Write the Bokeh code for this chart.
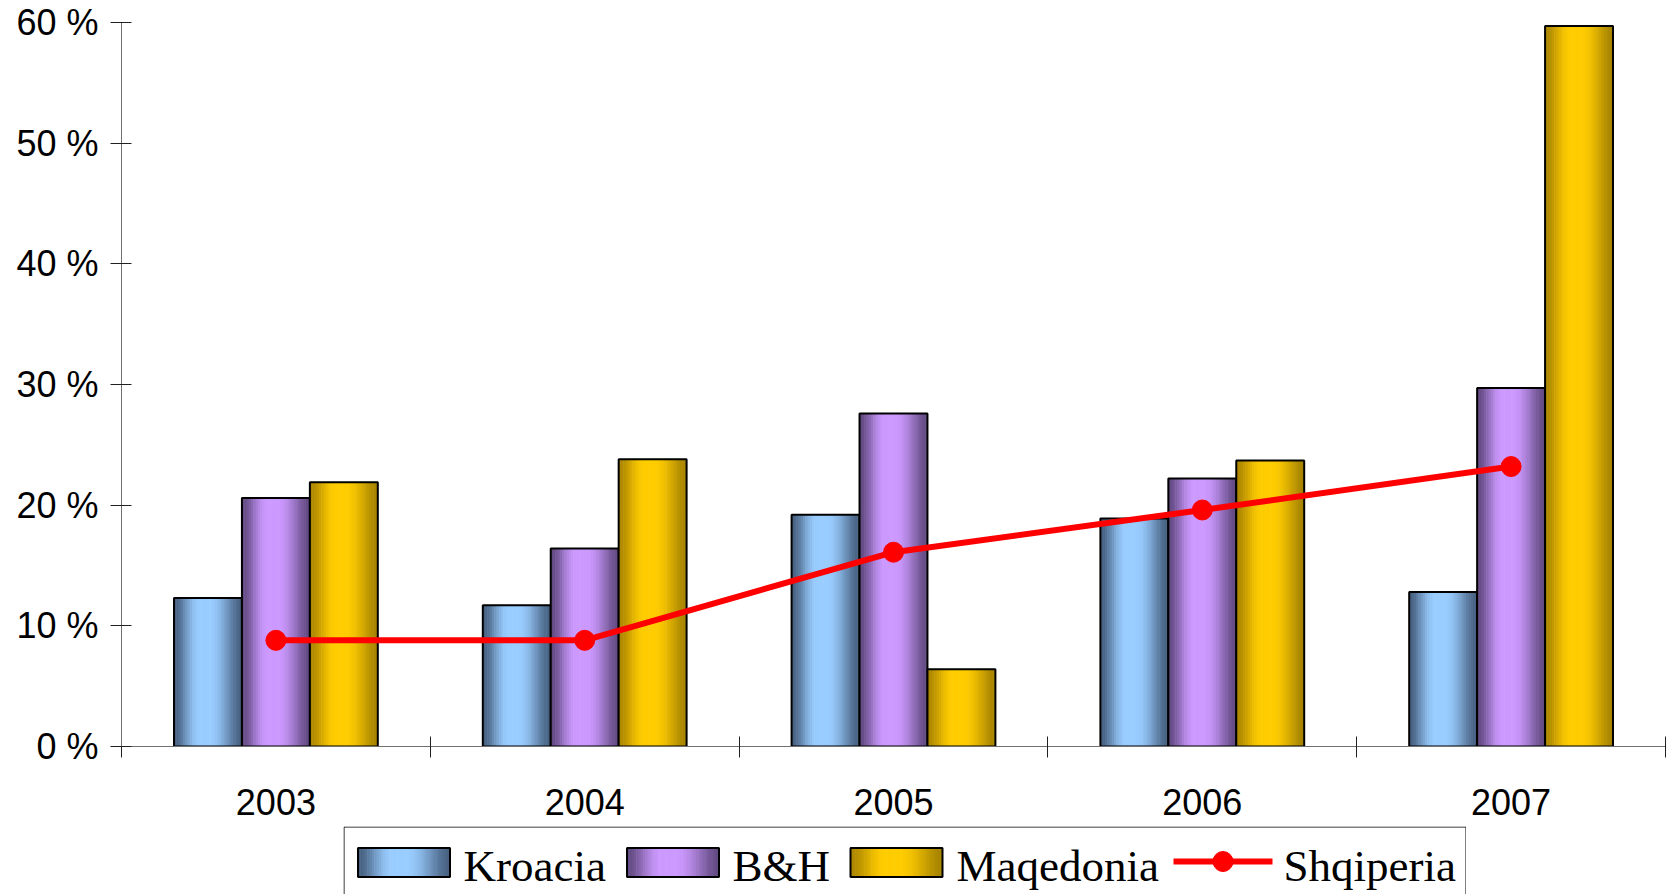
import math
from bokeh.plotting import figure
from bokeh.models import Range1d, FixedTicker, Spacer
from bokeh.layouts import column, row
from bokeh.core.properties import value
from bokeh.embed import file_html
from bokeh.resources import INLINE

# ---- data ----
years = ["2003", "2004", "2005", "2006", "2007"]
bar_names = ["Kroacia", "B&H", "Maqedonia"]
kroacia = [12.3, 11.7, 19.2, 18.9, 12.8]
bh = [20.6, 16.4, 27.6, 22.2, 29.7]
maqedonia = [21.9, 23.8, 6.4, 23.7, 59.7]
line_name = "Shqiperia"
shqiperia = [8.8, 8.8, 16.1, 19.6, 23.2]
y_ticks = [0, 10, 20, 30, 40, 50, 60]

bar_series = [kroacia, bh, maqedonia]

# ---- styles ----
light = ["#99ccff", "#cc99ff", "#ffcc00"]
edge_l = ["#466080", "#624a82", "#ad8700"]
edge_r = ["#466080", "#624a82", "#a68300"]
BAR_W = 0.22
NSTRIP = 30


def h2r(h):
    h = h.lstrip("#")
    return [int(h[i:i + 2], 16) for i in (0, 2, 4)]


def r2h(c):
    return "#%02x%02x%02x" % tuple(max(0, min(255, int(round(v)))) for v in c)


def profile(t):
    a, b = 0.38, 0.52
    if t < a:
        return math.sin(math.pi / 2 * t / a) ** 1.7
    if t > b:
        return math.sin(math.pi / 2 * (1 - t) / (1 - b)) ** 1.6
    return 1.0


def shade(t, i):
    li, el, er = h2r(light[i]), h2r(edge_l[i]), h2r(edge_r[i])
    e = [el[k] + (er[k] - el[k]) * t for k in range(3)]
    g = profile(t)
    return r2h([e[k] + (li[k] - e[k]) * g for k in range(3)])


def strips(x0, x1, y0, y1, i, n):
    L, R, T, B, C = [], [], [], [], []
    dw = (x1 - x0) / n
    for k in range(n):
        t = (k + 0.5) / n
        L.append(x0 + k * dw)
        R.append(x0 + (k + 1) * dw + (dw * 0.25 if k < n - 1 else 0))
        T.append(y1)
        B.append(y0)
        C.append(shade(t, i))
    return L, R, T, B, C


# ---- main figure ----
p = figure(width=1668, height=826, x_range=Range1d(0, len(years)), y_range=Range1d(0, 60),
           output_backend="svg", toolbar_location=None,
           min_border_left=121, min_border_right=3, min_border_top=22, min_border_bottom=80)
p.xgrid.visible = False
p.ygrid.visible = False
p.outline_line_color = None
p.background_fill_color = "white"

centers = [j + 0.5 for j in range(len(years))]

for i, vals in enumerate(bar_series):
    L, R, T, B, C = [], [], [], [], []
    oL, oR, oT = [], [], []
    for j, v in enumerate(vals):
        c = centers[j] + (i - 1) * BAR_W
        x0, x1 = c - BAR_W / 2, c + BAR_W / 2
        l, r, t, b, col = strips(x0, x1, 0, v, i, NSTRIP)
        L += l; R += r; T += t; B += b; C += col
        oL.append(x0); oR.append(x1); oT.append(v)
    p.quad(left=L, right=R, top=T, bottom=B, fill_color=C, line_color=None)
    p.quad(left=oL, right=oR, top=oT, bottom=[0] * len(oT), fill_color=None,
           line_color="black", line_width=2)

p.line(centers, shqiperia, line_color="#ff0000", line_width=6)
p.scatter(centers, shqiperia, size=20, fill_color="#ff0000", line_color="#ff0000")

# axes
xa = p.xaxis[0]
xa.ticker = FixedTicker(ticks=centers, minor_ticks=list(range(len(years) + 1)))
xa.major_label_overrides = {c: y for c, y in zip(centers, years)}
xa.major_tick_line_color = None
xa.major_tick_in = 0
xa.major_tick_out = 0
xa.minor_tick_in = 10
xa.minor_tick_out = 11
xa.minor_tick_line_color = "#202020"
xa.axis_line_color = "#707070"
xa.major_label_standoff = 31
xa.major_label_text_font = "Liberation Sans"
xa.major_label_text_font_size = "36px"
xa.major_label_text_color = "black"

ya = p.yaxis[0]
ya.ticker = FixedTicker(ticks=y_ticks, minor_ticks=[])
ya.major_label_overrides = {t: f"{t} %" for t in y_ticks}
ya.major_tick_in = 10
ya.major_tick_out = 11
ya.major_tick_line_color = "#202020"
ya.minor_tick_line_color = None
ya.axis_line_color = "#707070"
ya.major_label_standoff = 12
ya.major_label_text_font = "Liberation Sans"
ya.major_label_text_font_size = "36px"
ya.major_label_text_color = "black"

# ---- legend figure (x = page pixels, y = pixels up from legend bottom) ----
LEG_TOP = 826
LEG_H = 68
LEG_BOTTOM = LEG_TOP + LEG_H


def ly(page_y):
    return LEG_BOTTOM - page_y


leg = figure(width=1123, height=LEG_H, x_range=Range1d(343, 1466), y_range=Range1d(0, LEG_H),
             output_backend="svg", toolbar_location=None, min_border=0,
             x_axis_type=None, y_axis_type=None)
leg.xgrid.visible = False
leg.ygrid.visible = False
leg.outline_line_color = None

leg.line([343.5, 343.5, 1465.5, 1465.5], [0, ly(826.5), ly(826.5), 0],
         line_color="black", line_width=1)

TXT_Y = 865
sw_left = [357.5, 626.5, 850.0]
txt_x = [463, 732, 956]
for i, name in enumerate(bar_names):
    x0 = sw_left[i]
    x1 = x0 + 92
    l, r, t, b, col = strips(x0, x1, ly(876.5), ly(847.5), i, 40)
    leg.quad(left=l, right=r, top=t, bottom=b, fill_color=col, line_color=None)
    leg.quad(left=[x0], right=[x1], top=[ly(847.5)], bottom=[ly(876.5)], fill_color=None,
             line_color="black", line_width=2)
    leg.text(x=[txt_x[i]], y=[ly(TXT_Y)], text=[name], text_font=value("Liberation Serif"),
             text_font_size=value("45px"), text_baseline="alphabetic", text_align="left",
             text_color="black")

leg.line([1173, 1272], [ly(861), ly(861)], line_color="#ff0000", line_width=6)
leg.scatter([1222.5], [ly(861)], size=20, fill_color="#ff0000", line_color="#ff0000")
leg.text(x=[1283], y=[ly(TXT_Y)], text=[line_name], text_font=value("Liberation Serif"),
         text_font_size=value("45px"), text_baseline="alphabetic", text_align="left",
         text_color="black")

layout = column(p, row(Spacer(width=343, height=LEG_H), leg))

open("out.html", "w").write(file_html(layout, INLINE))
